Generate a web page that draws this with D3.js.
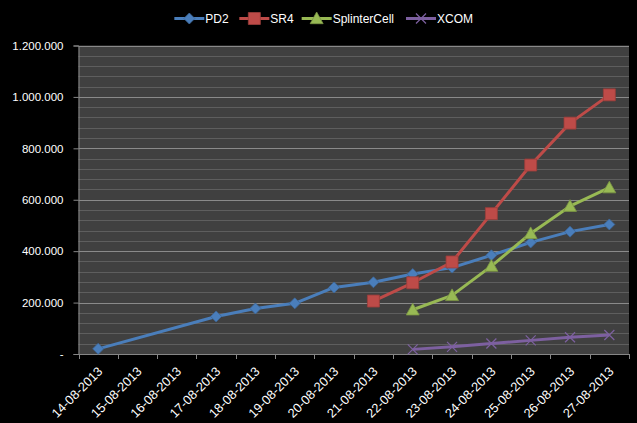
<!DOCTYPE html>
<html><head><meta charset="utf-8">
<script src="https://cdn.jsdelivr.net/npm/d3@7"></script>
<style>body{margin:0;background:#000;} svg{display:block;}</style>
</head><body>
<svg id="c" width="637" height="423"></svg>
<script>
const categories = ["14-08-2013","15-08-2013","16-08-2013","17-08-2013","18-08-2013","19-08-2013","20-08-2013","21-08-2013","22-08-2013","23-08-2013","24-08-2013","25-08-2013","26-08-2013","27-08-2013"];
const PD2 = [20000,null,null,146000,177000,197000,259000,279000,311000,336000,384000,434000,476000,504000];
const SR4 = [null,null,null,null,null,null,null,206000,277000,358000,546000,735000,898000,1008000];
const SplinterCell = [null,null,null,null,null,null,null,null,172000,228000,342000,469000,575000,647000];
const XCOM = [null,null,null,null,null,null,null,null,18000,28000,41000,53000,65000,74000];
const yTicks = [0,200000,400000,600000,800000,1000000,1200000];
const yMinor = d3.range(0,1200001,40000);
const seriesNames = ["PD2","SR4","SplinterCell","XCOM"];
const seriesData = [PD2,SR4,SplinterCell,XCOM];
const colors = ["#4a7ebb","#be4b48","#98b954","#7d60a0"];
const markers = ["diamond","square","triangle","x"];

const svg = d3.select("#c");
const L=78.5, R=629, T=45.5, B=354;
const font = "'Liberation Sans', Arial, sans-serif";
const x = d3.scaleBand().domain(categories).range([L,R]);
const y = d3.scaleLinear().domain([0,1200000]).range([B,T]);

svg.append("rect").attr("x",L).attr("y",T).attr("width",R-L).attr("height",B-T).attr("fill","#404040");

// minor gridlines
svg.append("g").selectAll("line").data(yMinor.filter(v=>v%200000!==0)).join("line")
  .attr("x1",L).attr("x2",R).attr("y1",d=>Math.round(y(d))+0.5).attr("y2",d=>Math.round(y(d))+0.5)
  .attr("stroke","#5e5e5e").attr("stroke-width",1);
// major gridlines
svg.append("g").selectAll("line").data(yTicks.filter(v=>v>0)).join("line")
  .attr("x1",L).attr("x2",R).attr("y1",d=>Math.round(y(d))+0.5).attr("y2",d=>Math.round(y(d))+0.5)
  .attr("stroke","#8a8a8a").attr("stroke-width",1);

// y axis
const yAxis = d3.axisLeft(y).tickValues(yTicks).tickSize(5).tickPadding(10)
  .tickFormat(d=> d===0 ? "-" : d3.format(",")(d).replace(/,/g,"."));
const gy = svg.append("g").attr("transform",`translate(${L},0)`).call(yAxis);
gy.select(".domain").attr("stroke","#868686");
gy.selectAll(".tick line").attr("stroke","#868686");
gy.selectAll("text").attr("fill","#fff").attr("font-family",font).attr("font-size",11.5);

// x axis
const gx = svg.append("g").attr("transform",`translate(0,${B})`);
gx.append("line").attr("x1",L).attr("x2",R).attr("y1",0.5).attr("y2",0.5).attr("stroke","#868686");
const edges = categories.map(c=>x(c)).concat([R]);
gx.selectAll("line.tk").data(edges).join("line").attr("class","tk")
  .attr("x1",d=>Math.round(d)+0.5).attr("x2",d=>Math.round(d)+0.5).attr("y1",0).attr("y2",5).attr("stroke","#868686");
gx.selectAll("text").data(categories).join("text")
  .attr("transform",d=>`translate(${x(d)+x.bandwidth()/2+2},${15}) rotate(-45)`)
  .attr("text-anchor","end").attr("dy","0.35em")
  .attr("fill","#fff").attr("font-family",font).attr("font-size",12.8).text(d=>d);

// series
function markerPath(type, s){
  if(type==="diamond") return `M0,${-s}L${s},0L0,${s}L${-s},0Z`;
  if(type==="square") return `M${-s},${-s}H${s}V${s}H${-s}Z`;
  if(type==="triangle") return `M0,${-s}L${s},${s*0.8}L${-s},${s*0.8}Z`;
  return `M${-s},${-s}L${s},${s}M${s},${-s}L${-s},${s}`;
}
const msize = [5.5,6,6.5,5];
seriesData.forEach((arr,i)=>{
  const pts = categories.map((c,j)=>({c,v:arr[j]})).filter(d=>d.v!==null);
  const line = d3.line().x(d=>x(d.c)+x.bandwidth()/2).y(d=>y(d.v));
  svg.append("path").datum(pts).attr("d",line).attr("fill","none")
    .attr("stroke",colors[i]).attr("stroke-width",3).attr("stroke-linejoin","round");
  const g = svg.append("g");
  g.selectAll("path").data(pts).join("path")
    .attr("transform",d=>`translate(${x(d.c)+x.bandwidth()/2},${y(d.v)})`)
    .attr("d",markerPath(markers[i],msize[i]))
    .attr("fill",markers[i]==="x"?"none":colors[i])
    .attr("stroke",markers[i]==="x"?colors[i]:d3.color(colors[i]).darker(0.6))
    .attr("stroke-width",markers[i]==="x"?1.2:0.8);
});

// legend
const lg = svg.append("g");
seriesNames.forEach((n,i)=>{
  const lx = 150 + [73,268,455,768][i]/3, ly = 18.5;
  lg.append("line").attr("x1",lx).attr("x2",lx+30).attr("y1",ly).attr("y2",ly).attr("stroke",colors[i]).attr("stroke-width",3);
  lg.append("path").attr("transform",`translate(${lx+15},${ly})`).attr("d",markerPath(markers[i],msize[i]))
    .attr("fill",markers[i]==="x"?"none":colors[i])
    .attr("stroke",markers[i]==="x"?colors[i]:d3.color(colors[i]).darker(0.6))
    .attr("stroke-width",markers[i]==="x"?1.2:0.8);
  lg.append("text").attr("x",lx+31).attr("y",ly).attr("dy","0.35em").attr("fill","#fff")
    .attr("font-family",font).attr("font-size",12).text(n);
});
</script>
</body></html>
